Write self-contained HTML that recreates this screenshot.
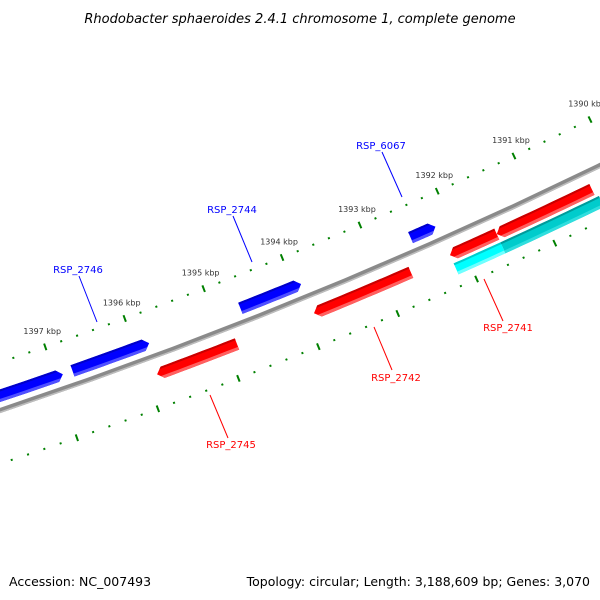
<!DOCTYPE html>
<html><head><meta charset="utf-8"><style>
body{margin:0;background:#fff;}
svg{display:block;font-family:"DejaVu Sans","Liberation Sans",sans-serif;}
</style></head><body>
<svg id="chart" width="600" height="600" viewBox="0 0 600 600" xmlns="http://www.w3.org/2000/svg">
<rect width="600" height="600" fill="#fff"/>
<text x="300" y="23" text-anchor="middle" font-size="13" font-style="italic" fill="#000">Rhodobacter sphaeroides 2.4.1 chromosome 1, complete genome</text>
<g id="plot"></g>
<g font-size="10">
<line x1="79" y1="276" x2="97" y2="322" stroke="#0000ff" stroke-width="1"/>
<text x="78" y="273" text-anchor="middle" fill="#0000ff">RSP_2746</text>
<line x1="233" y1="216" x2="252" y2="262" stroke="#0000ff" stroke-width="1"/>
<text x="232" y="213" text-anchor="middle" fill="#0000ff">RSP_2744</text>
<line x1="382" y1="152" x2="402" y2="197" stroke="#0000ff" stroke-width="1"/>
<text x="381" y="149" text-anchor="middle" fill="#0000ff">RSP_6067</text>
<line x1="210" y1="395" x2="228" y2="438" stroke="#ff0000" stroke-width="1"/>
<text x="231" y="448" text-anchor="middle" fill="#ff0000">RSP_2745</text>
<line x1="374" y1="327" x2="392" y2="370" stroke="#ff0000" stroke-width="1"/>
<text x="396" y="381" text-anchor="middle" fill="#ff0000">RSP_2742</text>
<line x1="484" y1="279" x2="503" y2="321" stroke="#ff0000" stroke-width="1"/>
<text x="508" y="331" text-anchor="middle" fill="#ff0000">RSP_2741</text>
</g>
<text x="9" y="586" font-size="12.5" fill="#000">Accession: NC_007493</text>
<text x="590" y="586" font-size="12.5" text-anchor="end" fill="#000">Topology: circular; Length: 3,188,609 bp; Genes: 3,070</text>
</svg>
<script>
// data
const blueStarts = [1398.6, 1396.79, 1394.68, 1392.51];
const blueEnds   = [1396.91, 1395.83, 1393.91, 1392.19];
const redStarts  = [1395.87, 1393.90, 1392.17, 1391.57];
const redEnds    = [1394.87, 1392.67, 1391.57, 1390.34];
const cyanStarts = [1392.17, 1391.57];
const cyanEnds   = [1391.57, 1390.30];
const cyanColors = ['#00ffff', '#00cccc'];
const tickMin = 1388, tickMax = 1400, tickStep = 0.2;

const NS = 'http://www.w3.org/2000/svg';
const plot = document.getElementById('plot');
function circ(a,b,c){
  const d=2*(a[0]*(b[1]-c[1])+b[0]*(c[1]-a[1])+c[0]*(a[1]-b[1]));
  const s=p=>p[0]*p[0]+p[1]*p[1];
  const ux=(s(a)*(b[1]-c[1])+s(b)*(c[1]-a[1])+s(c)*(a[1]-b[1]))/d;
  const uy=(s(a)*(c[0]-b[0])+s(b)*(a[0]-c[0])+s(c)*(b[0]-a[0]))/d;
  return [ux,uy];
}
const C = circ([0,410.5],[300,299.5],[600,165.5]);
const cx=C[0], cy=C[1];
const R = Math.hypot(0-cx,410.5-cy);
const a0 = Math.atan2(349-cy,46-cx), a1 = Math.atan2(154-cy,513-cx);
const kA = (a1-a0)/6;
const rUp = (Math.hypot(46-cx,349-cy)+Math.hypot(513-cx,154-cy))/2;
const rLow = Math.hypot(79-cx,437-cy);
function ang(kbp){return a0+(1397-kbp)*kA;}
function pt(kbp,r){const a=ang(kbp);return [cx+r*Math.cos(a),cy+r*Math.sin(a)];}
function mk(tag,attrs){const e=document.createElementNS(NS,tag);for(const k in attrs)e.setAttribute(k,attrs[k]);return e;}
function bandPts(s,e,r1,r2){
  const n=12,out=[],inn=[];
  for(let i=0;i<=n;i++){const k=s+(e-s)*i/n;out.push(pt(k,r2));inn.push(pt(k,r1));}
  return out.concat(inn.reverse());
}
function ptsStr(p){return p.map(q=>q[0].toFixed(2)+','+q[1].toFixed(2)).join(' ');}
// screen "up" = smaller radius here (center is upper-left)
const UP = -1;

const bb1 = mk('polygon',{points:ptsStr(bandPts(1388,1401,R-2.5,R+2.5)),fill:'#8a8a8a'});


plot.appendChild(bb1);
const bb2 = mk('polygon',{points:ptsStr(bandPts(1388,1401,R+1,R+2.5)),fill:'#bdbdbd'});


plot.appendChild(bb2);

[[rUp,'upper'],[rLow,'lower']].forEach(([r,nm])=>{
  const n=Math.round((tickMax-tickMin)/tickStep);
  for(let i=0;i<=n;i++){
    const k=tickMin+i*tickStep;
    const major=Math.abs(k-Math.round(k))<1e-6;
    const h=major?3.5:1;
    const p1=pt(k,r-h),p2=pt(k,r+h);
    const l=mk('line',{x1:p1[0],y1:p1[1],x2:p2[0],y2:p2[1],stroke:'#008000','stroke-width':2});
    
    
    plot.appendChild(l);
    if(major&&nm==='upper'){
      const p=pt(k,r);
      const t=mk('text',{x:p[0]-3,y:p[1]-13,'text-anchor':'middle','font-size':'8',fill:'#333'});
      t.textContent=Math.round(k)+' kbp';
      
      
      plot.appendChild(t);
    }
  }
});

let gid=0;
// r1 < r2 radii; r1 is screen-top (dark), r2 screen-bottom (light)
function gene(s,e,r1,r2,dir,main,dark,light,name){
  const h=0.07, rm=(r1+r2)/2;
  let pts;
  if(dir===1){pts=bandPts(s,e-h,r1,r2);const n=pts.length/2;pts.splice(n,0,pt(e,rm));}
  else if(dir===-1){pts=bandPts(s+h,e,r1,r2);pts.push(pt(s,rm));}
  else pts=bandPts(s,e,r1,r2);
  const id='clip'+(gid++);
  const cp=mk('clipPath',{id:id});
  cp.appendChild(mk('polygon',{points:ptsStr(pts)}));
  plot.appendChild(cp);
  const g=mk('g',{'clip-path':'url(#'+id+')'});
  
  
  const lo=Math.min(s,e)-0.2, hi=Math.max(s,e)+0.2;
  g.appendChild(mk('polygon',{points:ptsStr(bandPts(lo,hi,r1-2,r2+2)),fill:main}));
  g.appendChild(mk('polygon',{points:ptsStr(bandPts(lo,hi,r1-2,r1+2)),fill:dark}));
  g.appendChild(mk('polygon',{points:ptsStr(bandPts(lo,hi,r2-3,r2+2)),fill:light}));
  plot.appendChild(g);
}
blueStarts.forEach((s,i)=>gene(Math.min(s,blueEnds[i]), Math.max(s,blueEnds[i]), R-20,R-8,-1,'#0000ff','#0000c8','#5050ff','blue-gene'));
redStarts.forEach((s,i)=>gene(redEnds[i],s,R+12,R+24,1,'#ff0000','#c80000','#ff6060','red-gene'));
cyanStarts.forEach((s,i)=>gene(cyanEnds[i],s,R+27,R+39,0,cyanColors[i],i?'#009a9a':'#00cccc',i?'#30dede':'#70ffff','cyan-feature'));
</script>
</body></html>
